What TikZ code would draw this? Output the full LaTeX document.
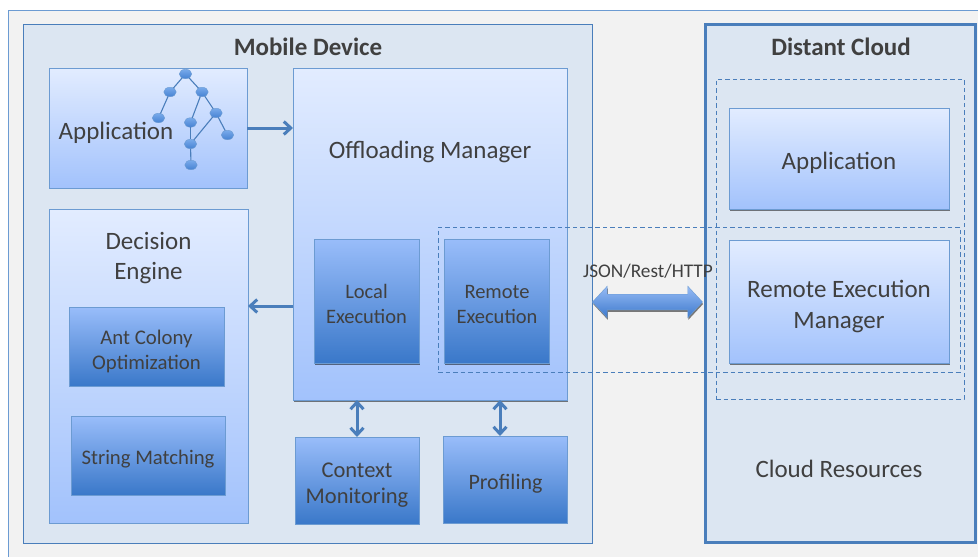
\documentclass[tikz,border=0pt]{standalone}
\usepackage{fontspec}
\setmainfont{Carlito}
\usetikzlibrary{arrows.meta,shadows,shapes.arrows,shapes.geometric}
\definecolor{frameblue}{HTML}{6C9BD2}
\definecolor{lineblue}{HTML}{4A7EBB}
\definecolor{paleblue}{HTML}{DCE6F2}
\definecolor{inktext}{HTML}{404040}
\newcommand{\firstline}[1]{\rule{0pt}{#1}}

\begin{document}
\begin{tikzpicture}
[x=1pt,y=-1pt,>={Straight Barb[length=7pt,width=13pt]},
 softshadow/.style={drop shadow={shadow xshift=0.6pt,shadow yshift=-2pt,fill=black,opacity=.5}},
 region/.style={rectangle,draw=lineblue,fill=paleblue,line width=.8pt,outer sep=0pt},
 lowered/.style={execute at begin node={\rule{0pt}{1.05em}}},
 lightbox/.style={rectangle,draw=frameblue,top color={rgb,255:red,226;green,236;blue,255},bottom color={rgb,255:red,162;green,194;blue,252},
   line width=.9pt,outer sep=0pt,align=center,text=inktext},
 darkbox/.style={rectangle,draw=frameblue,top color={rgb,255:red,153;green,189;blue,250},bottom color={rgb,255:red,58;green,120;blue,201},
   line width=.7pt,outer sep=0pt,align=center,text=inktext},
 title/.style={font=\fontsize{25}{30}\selectfont\bfseries,text=inktext},
 caption/.style={font=\fontsize{25}{30}\selectfont,text=inktext,align=center},
 treenode/.style={ellipse,draw=frameblue,line width=.4pt,top color={rgb,255:red,120;green,170;blue,235},bottom color={rgb,255:red,70;green,130;blue,210},
   minimum width=12.5pt,minimum height=9.5pt,inner sep=0pt,outer sep=0pt},
 flow/.style={draw=lineblue,line width=3pt},
 treeline/.style={draw=lineblue,line width=1.1pt},
 crossing/.style={rectangle,draw=lineblue,dash pattern=on 4.5pt off 3pt,line width=.7pt,outer sep=0pt},
 channel/.style={double arrow,double arrow head extend=8pt,double arrow tip angle=94,double arrow head indent=0pt,
   minimum height=110pt,inner xsep=0pt,inner ysep=7.6pt,outer sep=0pt,draw=frameblue,line width=.4pt,
   top color={rgb,255:red,150;green,187;blue,245},bottom color={rgb,255:red,62;green,122;blue,205}}]

\useasboundingbox (0,0) rectangle (978,557);
\fill [color=black!5] (8,10) rectangle (978,557);
\draw [frameblue,line width=.8pt] (978,10) -| (8,557);

\node (mobile) at (307.5,283.5) [region,minimum width=569,minimum height=519]{};
\node (cloud) at (840,283) [region,line width=3pt,minimum width=270,minimum height=518]{};
\node (mobiletitle) at (308,47) [title]{Mobile Device};
\node (cloudtitle) at (841,47) [title]{Distant Cloud};

\node (app) at (148,128) [lightbox,minimum width=198,minimum height=120]{};
\node (applabel) at (116,128.5) [caption,lowered]{Application};

\node (t1) at (185.5,74) [treenode]{};
\node (t2) at (170,92) [treenode]{};
\node (t3) at (202,92) [treenode]{};
\node (t4) at (158.5,118) [treenode]{};
\node (t5) at (190.5,122.5) [treenode]{};
\node (t6) at (216,113) [treenode]{};
\node (t7) at (227.5,135) [treenode]{};
\node (t8) at (190.5,144) [treenode]{};
\node (t9) at (191,165) [treenode]{};
\draw [treeline] (t1) -- (t2);
\draw [treeline] (t1) -- (t3);
\draw [treeline] (t2) -- (t4);
\draw [treeline] (t3) -- (t5);
\draw [treeline] (t3) -- (t6);
\draw [treeline] (t6) -- (t7);
\draw [treeline] (t6) -- (t8);
\draw [treeline] (t5) -- (t8);
\draw [treeline] (t8) -- (t9);

\node (manager) at (430,234) [lightbox,softshadow,minimum width=274,minimum height=332]{};
\node (managerlabel) at (430,148) [caption,lowered]{Offloading Manager};
\node (local) at (366.5,301) [darkbox,softshadow,font=\fontsize{20.5}{25}\selectfont,minimum width=105,minimum height=124]{\firstline{1em}Local\\Execution};
\node (remote) at (497,301) [darkbox,softshadow,font=\fontsize{20.5}{25}\selectfont,minimum width=105,minimum height=124]{\firstline{1em}Remote\\Execution};

\node (decision) at (148.5,366) [lightbox,minimum width=199,minimum height=314]{};
\node (decisionlabel) at (148.5,258) [caption]{Decision\\Engine};
\node (ant) at (146.5,346.5) [darkbox,font=\fontsize{20.8}{25}\selectfont,minimum width=155,minimum height=79]{\firstline{1.2em}Ant Colony\\Optimization};
\node (string) at (148,455.5) [darkbox,lowered,font=\fontsize{20.7}{25}\selectfont,minimum width=154,minimum height=79]{String Matching};

\node (context) at (357,480.5) [darkbox,font=\fontsize{22.5}{26}\selectfont,minimum width=124,minimum height=87]{\firstline{1.07em}Context\\Monitoring};
\node (profiling) at (505.5,479.5) [darkbox,lowered,font=\fontsize{22}{26}\selectfont,minimum width=124,minimum height=87]{Profiling};

\node (capp) at (839,158.5) [lightbox,softshadow,lowered,font=\fontsize{25}{30}\selectfont,minimum width=220,minimum height=101]{Application};
\node (rem) at (839,301.5) [lightbox,softshadow,font=\fontsize{25}{31}\selectfont,minimum width=220,minimum height=123]{\firstline{1.12em}Remote Execution\\Manager};
\node (resources) at (839,464) [caption,lowered]{Cloud Resources};

\node (clouddash) at (840,239) [crossing,minimum width=248,minimum height=320]{};
\node (crossdash) at (699,299.5) [crossing,minimum width=522,minimum height=145]{};

\node (channel) at (647.5,302) [channel,softshadow]{};
\node (channellabel) at (648,268) [caption,lowered,font=\fontsize{19.3}{22}\selectfont]{JSON/Rest/HTTP};

\coordinate (backflow) at (270,306);
\coordinate (profilingflow) at (500,418);

\draw [flow,->] (app.east) -- (app.east -| manager.west);
\draw [flow,->] (backflow -| manager.west) -- (backflow -| decision.east);
\draw [flow,<->] (context.north) -- (context.north |- manager.south);
\draw [flow,<->] (profilingflow |- profiling.north) -- (profilingflow |- manager.south);
\end{tikzpicture}
\end{document}
